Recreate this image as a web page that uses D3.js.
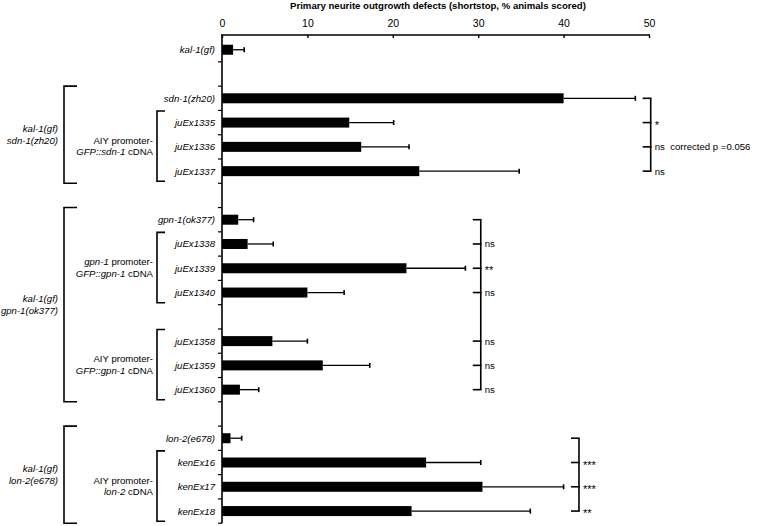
<!DOCTYPE html>
<html>
<head>
<meta charset="utf-8">
<script src="https://cdn.jsdelivr.net/npm/d3@7"></script>
<style>
  body { margin: 0; background: #fff; }
  text { font-family: "Liberation Sans", Arial, Helvetica, sans-serif; fill: #000; }
</style>
</head>
<body>
<svg id="chart" width="759" height="526"></svg>
<script>
// rows, top to bottom; blank ids are spacer rows
var rows = ['kal-1(gf)', '_s1', 'sdn-1(zh20)', 'juEx1335', 'juEx1336', 'juEx1337', '_s2',
            'gpn-1(ok377)', 'juEx1338', 'juEx1339', 'juEx1340', '_s3',
            'juEx1358', 'juEx1359', 'juEx1360', '_s4',
            'lon-2(e678)', 'kenEx16', 'kenEx17', 'kenEx18'];
var defects = [1.3, null, 40.0, 14.9, 16.3, 23.1, null,
               1.9, 3.0, 21.6, 10.0, null,
               5.9, 11.8, 2.1, null,
               1.0, 23.9, 30.5, 22.2];
var errs = [1.3, null, 8.4, 5.2, 5.6, 11.7, null,
            1.8, 3.0, 6.9, 4.3, null,
            4.1, 5.5, 2.2, null,
            1.3, 6.4, 9.5, 13.9];
var xTicks = [0, 10, 20, 30, 40, 50];
var axisTitle = 'Primary neurite outgrowth defects (shortstop, % animals scored)';

// outer genotype brackets (row range + label lines)
var outerGroups = [
    { first: 'sdn-1(zh20)', last: 'juEx1337', lines: [[['kal-1(gf)', 1]], [['sdn-1(zh20)', 1]]] },
    { first: 'gpn-1(ok377)', last: 'juEx1360', lines: [[['kal-1(gf)', 1]], [['gpn-1(ok377)', 1]]] },
    { first: 'lon-2(e678)', last: 'kenEx18', lines: [[['kal-1(gf)', 1]], [['lon-2(e678)', 1]]] }
];
// inner transgene brackets; [text, italic]
var innerGroups = [
    { first: 'juEx1335', last: 'juEx1337', lines: [[['AIY promoter-', 0]], [['GFP::sdn-1', 1], [' cDNA', 0]]] },
    { first: 'juEx1338', last: 'juEx1340', lines: [[['gpn-1', 1], [' promoter-', 0]], [['GFP::gpn-1', 1], [' cDNA', 0]]] },
    { first: 'juEx1358', last: 'juEx1360', lines: [[['AIY promoter-', 0]], [['GFP::gpn-1', 1], [' cDNA', 0]]] },
    { first: 'kenEx16', last: 'kenEx18', lines: [[['AIY promoter-', 0]], [['lon-2', 1], [' cDNA', 0]]] }
];
// significance brackets: reference row then compared rows with labels
var sigGroups = [
    { ref: 'sdn-1(zh20)', at: 50.2, rows: ['juEx1335', 'juEx1336', 'juEx1337'], marks: ['*', 'ns  corrected p =0.056', 'ns'] },
    { ref: 'gpn-1(ok377)', at: 30.3, rows: ['juEx1338', 'juEx1339', 'juEx1340', 'juEx1358', 'juEx1359', 'juEx1360'], marks: ['ns', '**', 'ns', 'ns', 'ns', 'ns'] },
    { ref: 'lon-2(e678)', at: 41.8, rows: ['kenEx16', 'kenEx17', 'kenEx18'], marks: ['***', '***', '**'] }
];

var svg = d3.select('#chart');
var x = d3.scaleLinear().domain([0, 50]).range([222, 649]);
var y = d3.scaleBand().domain(rows).range([37.6, 523.2]).paddingInner(0).paddingOuter(0);
var bw = y.bandwidth();
function yc(r) { return y(r) + bw / 2; }

// title
svg.append('text')
    .attr('x', 438).attr('y', 9)
    .attr('text-anchor', 'middle')
    .style('font-weight', 'bold').style('font-size', '9.6px')
    .text(axisTitle);

// top axis
var xAxis = d3.axisTop(x).tickValues(xTicks).tickSizeInner(-3).tickSizeOuter(0).tickPadding(8);
var gx = svg.append('g').attr('transform', 'translate(0,35)').call(xAxis);
gx.select('.domain').attr('stroke', '#000').attr('stroke-width', 1.6).attr('d', 'M' + (x(0) - 1) + ',0H' + (x(50) + 1));
gx.selectAll('.tick line').attr('stroke', '#000').attr('stroke-width', 1.4);
gx.selectAll('.tick text').style('font-size', '10.5px').attr('font-family', null);

// vertical axis with ticks at band edges
svg.append('line')
    .attr('x1', x(0)).attr('x2', x(0)).attr('y1', 35).attr('y2', y.range()[1])
    .attr('stroke', '#000').attr('stroke-width', 1.6);
svg.selectAll('.ytick').data(rows)
    .enter().append('line').attr('class', 'ytick')
    .attr('x1', x(0) - 4).attr('x2', x(0))
    .attr('y1', function (d) { return y(d) + bw; })
    .attr('y2', function (d) { return y(d) + bw; })
    .attr('stroke', '#000').attr('stroke-width', 1.2);

// row labels
svg.selectAll('.rowlab').data(rows.filter(function (d) { return d.charAt(0) !== '_'; }))
    .enter().append('text').attr('class', 'rowlab')
    .attr('x', 215).attr('y', function (d) { return yc(d) + 3.5; })
    .attr('text-anchor', 'end')
    .style('font-size', '9.6px').style('font-style', 'italic')
    .text(function (d) { return d; });

// bars
var data = rows.map(function (r, i) { return { row: r, v: defects[i], e: errs[i] }; })
    .filter(function (d) { return d.v !== null; });
var barH = 10;
svg.selectAll('.bar').data(data)
    .enter().append('rect').attr('class', 'bar')
    .attr('x', x(0)).attr('y', function (d) { return yc(d.row) - barH / 2; })
    .attr('width', function (d) { return x(d.v) - x(0); })
    .attr('height', barH)
    .attr('fill', '#000');

// error bars
svg.selectAll('.err').data(data)
    .enter().append('line').attr('class', 'err')
    .attr('x1', function (d) { return x(d.v); })
    .attr('x2', function (d) { return x(d.v + d.e); })
    .attr('y1', function (d) { return yc(d.row); })
    .attr('y2', function (d) { return yc(d.row); })
    .attr('stroke', '#000').attr('stroke-width', 1.3);
svg.selectAll('.cap').data(data)
    .enter().append('line').attr('class', 'cap')
    .attr('x1', function (d) { return x(d.v + d.e); })
    .attr('x2', function (d) { return x(d.v + d.e); })
    .attr('y1', function (d) { return yc(d.row) - 2.5; })
    .attr('y2', function (d) { return yc(d.row) + 2.5; })
    .attr('stroke', '#000').attr('stroke-width', 1.6);

function bracket(g, bx, arm, y0, y1) {
    g.append('path')
        .attr('d', 'M' + (bx + arm) + ',' + y0 + 'H' + bx + 'V' + y1 + 'H' + (bx + arm))
        .attr('fill', 'none').attr('stroke', '#000').attr('stroke-width', 1.6);
}
function lines(g, xr, yMid, ls) {
    ls.forEach(function (parts, i) {
        var t = g.append('text')
            .attr('x', xr).attr('y', yMid + (i - (ls.length - 1) / 2) * 11.5 + 3.5)
            .attr('text-anchor', 'end').style('font-size', '9.6px');
        parts.forEach(function (p) {
            t.append('tspan').style('font-style', p[1] ? 'italic' : 'normal').text(p[0]);
        });
    });
}

// left brackets
var gl = svg.append('g');
outerGroups.forEach(function (d) {
    var y0 = y(d.first), y1 = y(d.last) + bw;
    bracket(gl, 64, 13, y0, y1);
    lines(gl, 58, (y0 + y1) / 2, d.lines);
});
innerGroups.forEach(function (d) {
    var y0 = y(d.first) + 0.5, y1 = y(d.last) + bw - 2;
    bracket(gl, 157, 8, y0, y1);
    lines(gl, 153, (y0 + y1) / 2, d.lines);
});

// significance brackets
var gs = svg.append('g');
sigGroups.forEach(function (d) {
    var bx = x(d.at);
    var ys = [yc(d.ref)].concat(d.rows.map(yc));
    gs.append('line')
        .attr('x1', bx).attr('x2', bx)
        .attr('y1', ys[0]).attr('y2', ys[ys.length - 1])
        .attr('stroke', '#000').attr('stroke-width', 1.6);
    ys.forEach(function (yy) {
        gs.append('line')
            .attr('x1', bx - 8).attr('x2', bx + 0.8)
            .attr('y1', yy).attr('y2', yy)
            .attr('stroke', '#000').attr('stroke-width', 1.6);
    });
    d.rows.forEach(function (r, i) {
        var star = d.marks[i].charAt(0) === '*';
        gs.append('text')
            .attr('x', bx + 4).attr('y', yc(r) + (star ? 6 : 3.5))
            .style('font-size', star ? '11px' : '9.6px')
            .style('white-space', 'pre')
            .attr('xml:space', 'preserve')
            .text(d.marks[i]);
    });
});
</script>
</body>
</html>
